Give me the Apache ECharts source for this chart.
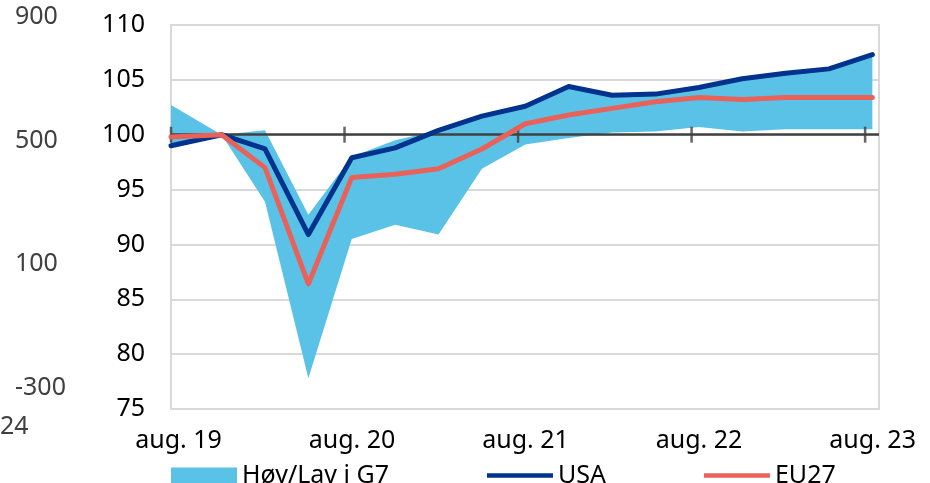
<!DOCTYPE html>
<html>
<head>
<meta charset="utf-8">
<script src="https://cdn.jsdelivr.net/npm/echarts@6/dist/echarts.min.js"></script>
<style>
  html, body { margin: 0; padding: 0; background: #fff; }
  #chart { width: 930px; height: 483px; }
</style>
</head>
<body>
<div id="chart"></div>
<script>
// months after aug. 2019 (quarterly observations)
const MONTHS = [0, 3.5, 6.5, 9.5, 12.5, 15.5, 18.5, 21.5, 24.5, 27.5, 30.5, 33.5, 36.5, 39.5, 42.5, 45.5, 48.5];
const G7_HIGH = [102.7, 100.0, 100.4, 92.7, 98.0, 99.5, 100.4, 101.7, 102.6, 104.4, 103.6, 103.7, 104.3, 105.1, 105.6, 106.0, 107.3];
const G7_LOW = [99.0, 100.0, 93.9, 77.8, 90.5, 91.8, 90.9, 96.9, 99.1, 99.7, 100.2, 100.3, 100.7, 100.3, 100.5, 100.5, 100.5];
const USA = [99.0, 100.0, 98.7, 90.9, 97.9, 98.8, 100.4, 101.7, 102.6, 104.4, 103.6, 103.7, 104.3, 105.1, 105.6, 106.0, 107.3];
const EU27 = [99.8, 100.0, 97.0, 86.4, 96.1, 96.4, 96.9, 98.7, 101.0, 101.8, 102.4, 103.0, 103.4, 103.2, 103.4, 103.4, 103.4];

const TICK_MONTHS = [0, 12, 24, 36, 48];
const TICK_LABELS = ["aug. 19", "aug. 20", "aug. 21", "aug. 22", "aug. 23"];
// leftover secondary axis at the far left
const LEFT_LABELS = ["-300", "100", "500", "900"];
const STRAY_TEXT = ["24"];

const FONT = "'Noto Sans', 'Open Sans', sans-serif";
const BLUE = "#5bc2e7";
const NAVY = "#00338d";
const RED = "#e8625a";
const LINE_ICON = "path://M0,0 L132,0 L132,9 L0,9 Z";

const pair = (arr) => MONTHS.map((m, i) => [m, arr[i]]);

const myChart = echarts.init(document.getElementById("chart"));

const option = {
  animation: false,
  textStyle: { fontFamily: FONT },
  grid: [
    {
      left: 171, right: 51, top: 25, bottom: 74,
      show: true, borderColor: "#d9d9d9", borderWidth: 2,
    },
    { left: 15, width: 1, top: 17, bottom: 95 },
  ],
  legend: {
    left: 166,
    top: 458,
    itemWidth: 66,
    itemHeight: 16,
    itemGap: 98,
    textStyle: { fontSize: 25, color: "#000", fontFamily: FONT },
    data: [
      { name: "Høy/Lav i G7", icon: "rect", itemStyle: { color: BLUE } },
      { name: "USA", icon: LINE_ICON, itemStyle: { color: NAVY, borderWidth: 0 } },
      { name: "EU27", icon: LINE_ICON, itemStyle: { color: RED, borderWidth: 0 } },
    ],
  },
  xAxis: [
    {
      type: "value",
      min: 0,
      max: 48.96,
      interval: 12,
      axisLine: { show: false },
      axisTick: { show: false },
      splitLine: { show: false },
      axisLabel: {
        fontSize: 25,
        color: "#000",
        margin: 19,
        padding: [0, 0, 0, 15],
        formatter: function (value) {
          const i = TICK_MONTHS.indexOf(value);
          return i >= 0 ? TICK_LABELS[i] : "";
        },
      },
    },
    { type: "value", gridIndex: 1, show: false },
  ],
  yAxis: [
    {
      type: "value",
      min: 75,
      max: 110,
      interval: 5,
      axisLine: { show: false },
      axisTick: { show: false },
      splitLine: { lineStyle: { color: "#d9d9d9", width: 2 } },
      axisLabel: { fontSize: 25, color: "#000", margin: 26 },
    },
    {
      type: "category",
      gridIndex: 1,
      data: LEFT_LABELS,
      boundaryGap: false,
      axisLine: { show: false },
      axisTick: { show: false },
      splitLine: { show: false },
      axisLabel: { fontSize: 25, color: "#404040", align: "left", margin: 0, interval: 0 },
    },
  ],
  graphic: [
    {
      type: "text",
      left: 0,
      top: 414,
      style: { text: STRAY_TEXT[0], fontSize: 25, fill: "#404040", fontFamily: FONT },
    },
  ],
  series: [
    {
      // høy/lav-båndet tegnes som én polygon
      name: "Høy/Lav i G7",
      type: "custom",
      itemStyle: { color: BLUE },
      z: 1,
      silent: true,
      encode: { x: 0, y: [1, 2] },
      data: MONTHS.map((m, i) => [m, G7_LOW[i], G7_HIGH[i]]),
      renderItem: function (params, api) {
        if (params.dataIndex !== 0) return;
        const top = MONTHS.map((m, i) => api.coord([m, G7_HIGH[i]]));
        const bottom = MONTHS.map((m, i) => api.coord([m, G7_LOW[i]])).reverse();
        return {
          type: "polygon",
          shape: { points: top.concat(bottom) },
          style: { fill: BLUE },
        };
      },
    },
    {
      name: "akse",
      type: "scatter",
      symbol: "rect",
      symbolSize: [2.5, 16],
      itemStyle: { color: "#404040" },
      silent: true,
      z: 3,
      data: TICK_MONTHS.map((m) => [m, 100]),
      markLine: {
        silent: true,
        symbol: "none",
        z: 3,
        label: { show: false },
        lineStyle: { color: "#404040", width: 2.5, type: "solid" },
        data: [{ yAxis: 100 }],
      },
    },
    {
      name: "USA",
      type: "line",
      symbol: "none",
      itemStyle: { color: NAVY },
      lineStyle: { color: NAVY, width: 5, cap: "round", join: "round" },
      z: 4,
      data: pair(USA),
    },
    {
      name: "EU27",
      type: "line",
      symbol: "none",
      itemStyle: { color: RED },
      lineStyle: { color: RED, width: 5, cap: "round", join: "round" },
      z: 5,
      data: pair(EU27),
    },
  ],
};

myChart.setOption(option);
window.addEventListener("resize", () => myChart.resize());
</script>
</body>
</html>
